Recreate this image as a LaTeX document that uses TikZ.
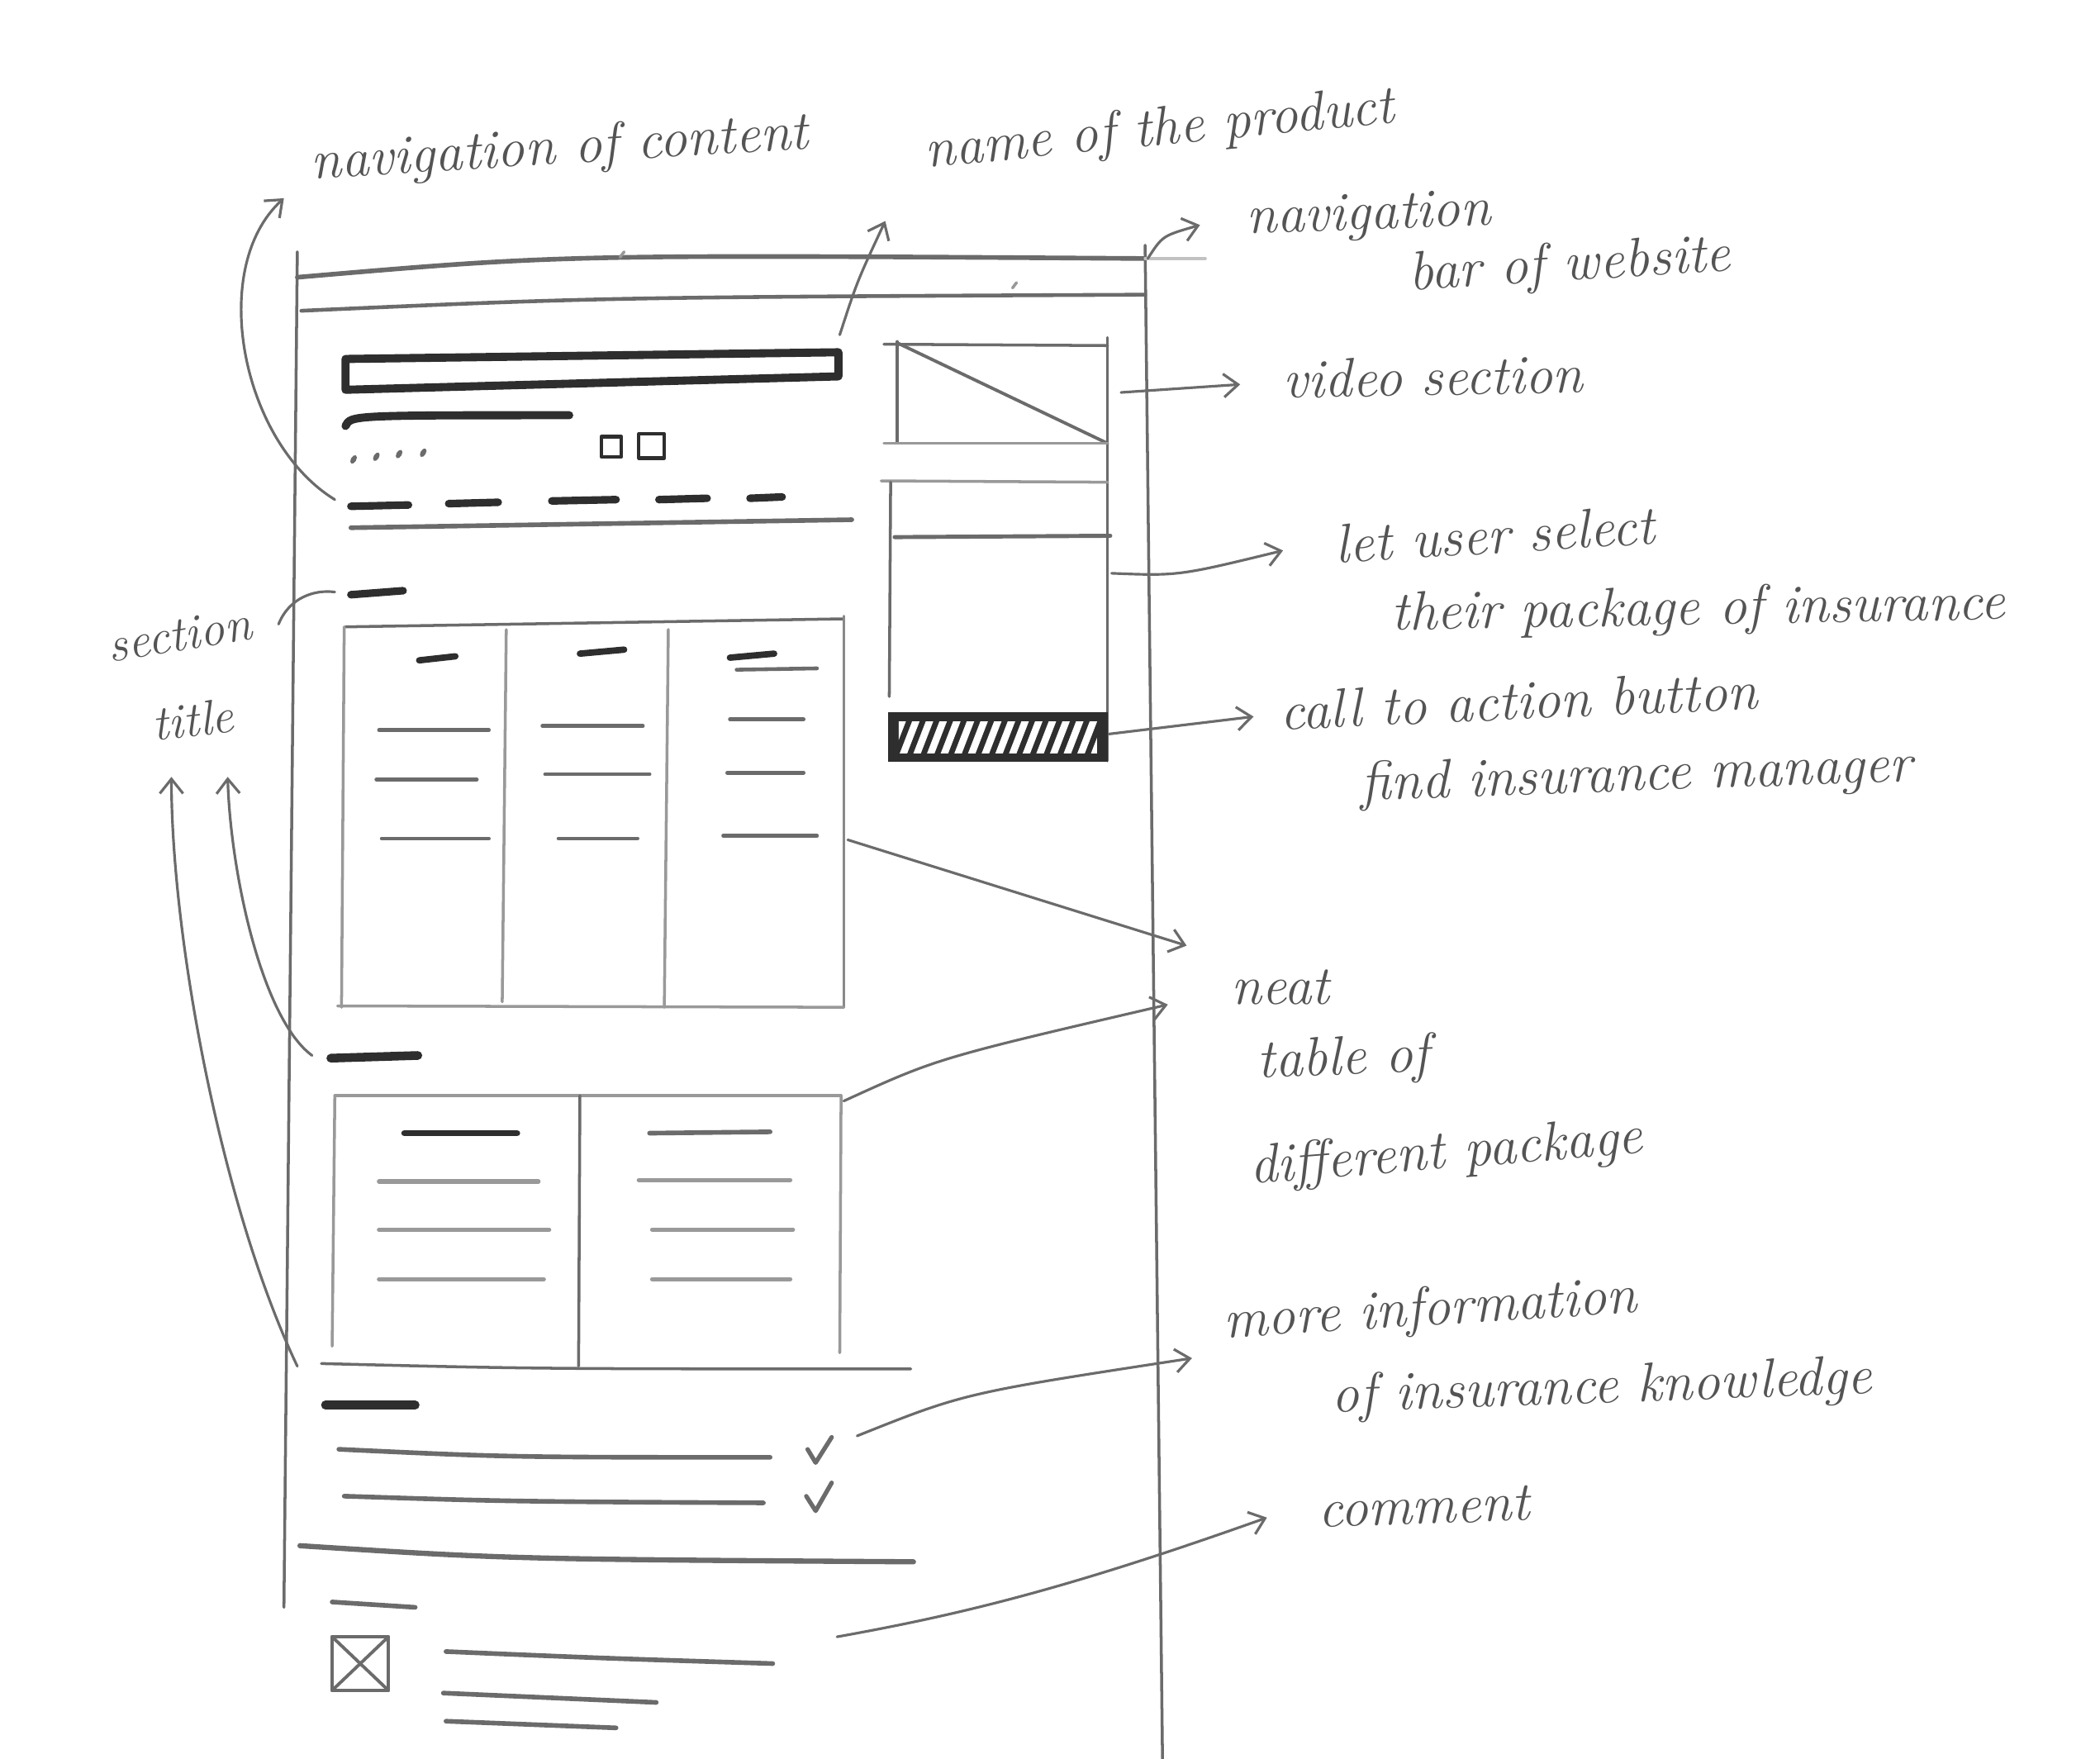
\documentclass[tikz,border=0pt]{standalone}
\usetikzlibrary{arrows.meta}
\definecolor{pdark}{gray}{0.18}
\definecolor{pmid}{gray}{0.42}
\definecolor{plight}{gray}{0.60}
\definecolor{ink}{gray}{0.33}
\begin{document}
\begin{tikzpicture}[x=0.016212cm,y=-0.016212cm,
  line cap=round, line join=round,
  thickbar/.style={draw=pdark, line width=2.8pt},
  midbar/.style={draw=pmid, line width=1.6pt},
  thinline/.style={draw=plight, line width=1.0pt},
  frame/.style={draw=pmid, line width=1.0pt},
  note/.style={text=ink, font=\fontsize{19}{23}\selectfont\itshape, inner sep=0pt, align=left},
  smallnote/.style={note, font=\fontsize{17}{20}\selectfont\itshape},
  pointer/.style={draw=pmid, line width=0.9pt, -{Straight Barb[length=5pt,width=8pt]}},
  plainptr/.style={draw=pmid, line width=0.9pt}]
\useasboundingbox (0,0) rectangle (1568,1313);
\fill[white] (0,0) rectangle (1568,1313);

% ---------- page frame ----------
\draw[frame] (222,188) -- (212,1200);
\draw[frame] (855,183) -- (868,1313);
\draw[midbar] (222,207) .. controls (420,190) .. (855,193);
\draw[thinline, draw=plight!60] (855,193) -- (900,193);
\draw[midbar, line width=1.3pt] (225,232) .. controls (450,222) .. (855,220);
\draw[thinline] (463,192) -- (466,188);
\draw[thinline] (756,215) -- (759,211);

% ---------- product header ----------
\draw[thickbar] (258,268) -- (626,263) -- (626,281) -- (258,291) -- cycle;
\draw[thickbar] (258,318) .. controls (262,310) .. (425,310);
\foreach \px/\py in {264/343, 281/341, 298/339, 316/338}
  \fill[pmid, rotate around={60:(\px,\py)}] (\px,\py) ellipse (3.5 and 2);
\draw[pdark, line width=1.2pt] (449,326) rectangle (464,341);
\draw[pdark, line width=1.2pt] (477,324) rectangle (496,342);
\foreach \a/\b/\y in {262/305/378, 335/372/376, 412/460/374, 492/528/373, 560/584/372}
  \draw[thickbar, line width=2.6pt] (\a,\y) -- (\b,\y-1);
\draw[midbar] (262,394) -- (636,388);

% ---------- right column: video + selector ----------
\draw[thinline, draw=pmid] (660,257) -- (827,258);
\draw[thinline, draw=pmid] (670,255) -- (670,330);
\draw[frame] (827,252) -- (827,568);
\draw[midbar, line width=1.1pt] (670,256) -- (827,331);
\draw[thinline] (660,331) -- (827,331);
\draw[thinline] (658,359) -- (827,360);
\draw[thinline, draw=pmid] (665,360) -- (664,520);
\draw[midbar, line width=1.4pt] (668,401) -- (829,400);
% call to action button
\fill[pdark] (663,532) rectangle (827,569);
\begin{scope}
  \clip (671,539) rectangle (819,562);
  \foreach \i in {0,...,16}
    \draw[white, line width=2.4pt] ({663+\i*10.2},566) -- ({675+\i*10.2},535);
\end{scope}

% ---------- section 1: three-column table ----------
\draw[thickbar, line width=2.6pt] (262,444) -- (301,441);
\draw[thinline, draw=pmid] (258,468) -- (630,462);
\draw[thinline] (257,468) -- (255,752);
\draw[thinline] (378,470) -- (375,748);
\draw[thinline] (499,470) -- (496,752);
\draw[frame, draw=pmid!80] (630,460) -- (630,752);
\draw[thinline] (252,751) -- (630,752);
% column contents
\draw[thickbar, line width=2.2pt] (313,493) -- (340,490);
\draw[thickbar, line width=2.2pt] (433,488) -- (466,485);
\draw[thickbar, line width=2.2pt] (545,491) -- (578,488);
\draw[midbar, line width=1.3pt] (550,500) -- (610,499);
\foreach \a/\b/\y in {283/365/545, 281/356/582, 285/365/626,
                      405/480/542, 407/485/578, 417/476/626,
                      545/600/537, 543/600/577, 540/610/624}
  \draw[midbar, line width=1.3pt] (\a,\y) -- (\b,\y);

% ---------- section 2: two-column table ----------
\draw[thickbar, line width=3pt] (247,790) -- (312,788);
\draw[thinline] (250,818) -- (628,818);
\draw[thinline] (250,818) -- (248,1005);
\draw[frame] (433,818) -- (432,1020);
\draw[thinline] (628,818) -- (627,1010);
\draw[thinline, draw=pmid] (240,1018) .. controls (400,1022) .. (680,1022);
\draw[thickbar, line width=2.2pt] (302,846) -- (386,846);
\draw[midbar] (485,846) -- (575,845);
\foreach \a/\b/\y in {283/402/882, 283/410/918, 283/406/955,
                      477/590/881, 487/592/918, 487/590/955}
  \draw[thinline, line width=1.5pt] (\a,\y) -- (\b,\y);

% ---------- section 3: list with ticks ----------
\draw[thickbar, line width=3pt] (243,1049) -- (310,1049);
\draw[midbar] (253,1082) .. controls (380,1088) .. (575,1088);
\draw[midbar] (257,1117) .. controls (380,1121) .. (570,1122);
\draw[pmid, line width=1.5pt] (603,1082) -- (609,1092) -- (621,1073);
\draw[pmid, line width=1.5pt] (602,1117) -- (609,1128) -- (621,1107);
\draw[midbar, line width=1.8pt] (224,1154) .. controls (380,1164) .. (682,1166);

% ---------- comment block ----------
\draw[midbar] (248,1196) -- (310,1200);
\draw[pmid, line width=1.3pt] (248,1222) rectangle (290,1262);
\draw[pmid, line width=1.1pt] (248,1222) -- (290,1262);
\draw[pmid, line width=1.1pt] (290,1222) -- (248,1262);
\draw[midbar] (333,1233) .. controls (450,1238) .. (577,1242);
\draw[midbar] (331,1264) -- (490,1271);
\draw[midbar] (333,1285) -- (460,1290);

% ---------- annotation labels ----------
\node[note, rotate=3.5] (navcontent) at (418,112) {navigation of content};
\node[note, rotate=5.5] (prodname) at (866,98) {name of the product};
\node[note, rotate=2] (navbar1) at (1022,162) {navigation};
\node[note, rotate=3.5] (navbar2) at (1172,199) {bar of website};
\node[note, rotate=1] (video) at (1070,281) {video section};
\node[note, rotate=3.5] (select1) at (1116,399) {let user select};
\node[note, rotate=1] (select2) at (1268,456) {their package of insurance};
\node[note, rotate=2.5] (cta1) at (1134,523) {call to action button};
\node[note, rotate=2] (cta2) at (1222,580) {find insurance manager};
\node[note] (neat1) at (956,737) {neat};
\node[note, rotate=2] (neat2) at (1003,792) {table of};
\node[note, rotate=4.5] (neat3) at (1080,862) {different package};
\node[note, rotate=3.5] (more1) at (1068,979) {more information};
\node[note, rotate=2] (more2) at (1196,1037) {of insurance knowledge};
\node[note, rotate=2] (comment) at (1063,1125) {comment};
\node[smallnote, rotate=9] (sect1) at (134,474) {section};
\node[smallnote, rotate=6] (sect2) at (144,537) {title};

% ---------- connector end points ----------
\coordinate (c-nav-s) at (250,373);   \coordinate (c-nav-e) at (212,148);
\coordinate (c-prod-s) at (627,250);  \coordinate (c-prod-e) at (661,165);
\coordinate (c-bar-s) at (857,193);   \coordinate (c-bar-e) at (896,168);
\coordinate (c-vid-s) at (837,293);   \coordinate (c-vid-e) at (926,287);
\coordinate (c-sel-s) at (830,428);   \coordinate (c-sel-e) at (958,411);
\coordinate (c-cta-s) at (828,548);   \coordinate (c-cta-e) at (936,535);
\coordinate (c-t1-s) at (633,627);    \coordinate (c-t1-e) at (886,706);
\coordinate (c-t2-s) at (630,822);    \coordinate (c-t2-e) at (872,750);
\coordinate (c-more-s) at (640,1072); \coordinate (c-more-e) at (890,1014);
\coordinate (c-com-s) at (625,1222);  \coordinate (c-com-e) at (946,1133);
\coordinate (c-sec-s) at (208,466);   \coordinate (c-sec-e) at (250,442);
\coordinate (c-st1-s) at (233,788);   \coordinate (c-st1-e) at (170,580);
\coordinate (c-st2-s) at (222,1020);  \coordinate (c-st2-e) at (128,580);

% ---------- connectors ----------
\draw[pointer] (c-nav-s) .. controls (180,330) and (155,200) .. (c-nav-e);
\draw[pointer] (c-prod-s) .. controls (640,210) .. (c-prod-e);
\draw[pointer] (c-bar-s) .. controls (868,176) .. (c-bar-e);
\draw[pointer] (c-vid-s) -- (c-vid-e);
\draw[pointer] (c-sel-s) .. controls (880,430) .. (c-sel-e);
\draw[pointer] (c-cta-s) -- (c-cta-e);
\draw[pointer] (c-t1-s) -- (c-t1-e);
\draw[pointer] (c-t2-s) .. controls (700,790) .. (c-t2-e);
\draw[pointer] (c-more-s) .. controls (720,1040) .. (c-more-e);
\draw[pointer] (c-com-s) .. controls (720,1205) and (800,1185) .. (c-com-e);
\draw[plainptr] (c-sec-s) .. controls (216,446) and (235,440) .. (c-sec-e);
\draw[pointer] (c-st1-s) .. controls (195,760) and (172,650) .. (c-st1-e);
\draw[pointer] (c-st2-s) .. controls (165,900) and (128,700) .. (c-st2-e);
\end{tikzpicture}
\end{document}
